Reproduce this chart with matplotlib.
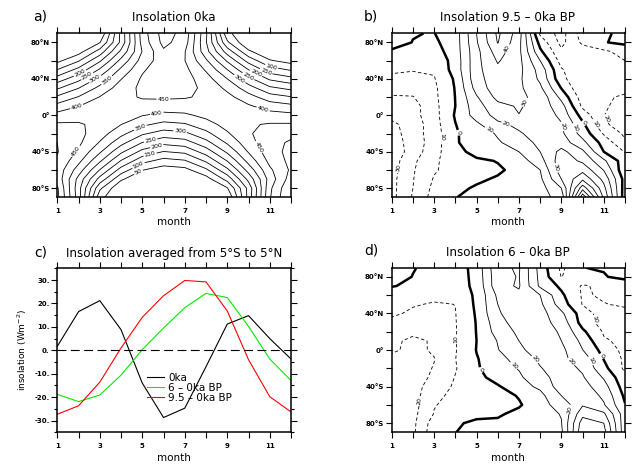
import numpy as np
import matplotlib.pyplot as plt
from matplotlib.ticker import MultipleLocator

plt.rcParams['font.family'] = ['DejaVu Sans']
plt.rcParams['lines.dashed_pattern'] = [4, 3]

months = np.arange(1, 13)
lats = np.arange(90, -91, -10)  # rows, north to south

# a) insolation at 0ka (W m-2), rows = lats, cols = Jan..Dec
insol_0ka = np.array([
    [0, 0, 0, 214, 425, 523, 482, 309, 64, 0, 0, 0],
    [0, 0, 47, 213, 419, 515, 474, 304, 109, 2, 0, 0],
    [0, 29, 121, 261, 402, 492, 453, 318, 178, 60, 3, 0],
    [36, 95, 192, 314, 421, 477, 451, 358, 243, 131, 55, 30],
    [101, 166, 257, 361, 443, 482, 464, 394, 301, 200, 122, 95],
    [172, 234, 315, 398, 457, 483, 471, 422, 350, 264, 192, 165],
    [242, 298, 364, 424, 461, 476, 468, 438, 388, 322, 260, 236],
    [309, 353, 402, 438, 454, 457, 454, 442, 415, 370, 323, 303],
    [368, 399, 427, 438, 434, 427, 428, 433, 429, 407, 377, 363],
    [418, 433, 439, 426, 402, 386, 391, 413, 430, 432, 421, 414],
    [457, 455, 438, 401, 360, 336, 345, 380, 418, 445, 454, 455],
    [485, 464, 423, 365, 308, 278, 289, 336, 394, 444, 475, 487],
    [500, 460, 396, 317, 249, 214, 227, 283, 357, 431, 483, 507],
    [503, 443, 357, 260, 184, 148, 161, 223, 309, 404, 479, 515],
    [495, 414, 308, 197, 117, 82, 95, 158, 252, 367, 464, 514],
    [482, 376, 248, 129, 52, 24, 34, 90, 188, 319, 441, 508],
    [483, 334, 182, 59, 3, 0, 0, 28, 118, 265, 421, 524],
    [507, 319, 111, 2, 0, 0, 0, 0, 46, 216, 439, 549],
    [514, 324, 65, 0, 0, 0, 0, 0, 0, 218, 445, 558],
])

# b) 9.5ka - 0ka
diff_95ka = np.array([
    [0.5, 0.2, -0.2, 5, 30, 52, 35, -12, -24, -5, -0.3, 0.5],
    [1.5, -0.1, -1.7, 5, 29, 50.5, 33, -3.7, -23, -8, -0.5, 2],
    [-0.5, -3, -4.1, 5, 27, 45, 32.5, 2, -18, -15, -12, -6],
    [-5, -6, -7.4, 4, 27, 41, 33, 10, -14, -17, -14, -10],
    [-8.5, -9.5, -9, 4, 27, 38, 33, 16, -9, -18, -17, -14],
    [-12, -12.5, -10.6, 1.4, 27, 35, 32, 18, -7, -19, -19, -17],
    [-16, -15.5, -12, 0.6, 24, 36, 32, 22, -0.5, -19, -19, -18],
    [-21, -20.5, -12.3, 0.2, 19, 33, 32, 27, 7, -15, -19, -21],
    [-27, -24, -13, 0, 16, 27, 31, 26, 14, -12, -19, -23],
    [-27.3, -23.7, -13.6, 1.0, 14.1, 23.3, 29.8, 29.2, 16.8, -4.0, -19.8, -26.3],
    [-32, -26, -14, -0.3, 8, 18, 22, 24, 21, 2, -18, -26],
    [-34, -25, -15, -1, 5, 11, 19, 24, 22, 6, -11, -22],
    [-35, -26, -15, -1.1, 5, 9, 14, 23, 25, 13, -4, -18],
    [-36, -26, -13, -4, 4, 6, 10, 20, 33, 22, 0, -10.5],
    [-35, -22, -12, -4, -2, 0.5, 5, 16, 36, 28, 12, -6],
    [-34, -21, -11, -6, -4, -1.5, 3, 10, 36, 37, 19.5, -8],
    [-33, -20.5, -9.2, -4, -1.5, 1, 3, 8, 30, 48, 27, -4],
    [-33, -20, -7.5, -2, 1, 2, 3, 6, 20, 66, 33, -5],
    [-33, -19, -6, -0.3, 3, 4, 5, 8, 12, 88, 38, -6],
])

# d) 6ka - 0ka
diff_6ka = np.array([
    [0.5, 0.2, -1, -5, 3.5, 28, 31, 6, -12, -0.1, 0.5, 0.5],
    [1.5, -0.1, -2, -5, 3, 27, 30.5, 7, -10.3, -4, -0.5, 2],
    [0.3, -1, -3, -4, 2, 27, 31, 8, -2, -11, -8, -5],
    [-3, -5, -7, -6, 1.5, 22, 28, 20, 1.8, -11, -9, -7],
    [-6, -9, -11, -9.9, 1.8, 20, 26, 22, 5, -10.5, -10.3, -9],
    [-8, -12, -13, -10.3, 1.1, 19, 25, 24, 12, -5, -15, -12],
    [-13, -16, -17, -10.5, 0.5, 16, 25, 24, 16, -4, -14, -12.5],
    [-16, -19, -19, -10.7, 0.3, 14, 22, 24, 19, 2, -11, -13],
    [-19, -21, -19.5, -10.5, 0, 10.5, 20, 24, 20, 7.5, -9, -12],
    [-18.8, -21.9, -19.1, -10.6, 0.3, 9.5, 18.2, 24.3, 22.5, 10.2, -3.7, -12.9],
    [-22, -23, -20.3, -10.2, -0.6, 5.5, 15, 21.5, 22, 16, -0.3, -12],
    [-23, -24, -19.5, -10.7, -1.5, 7.3, 10.5, 19.5, 24.5, 18.5, 3, -12],
    [-24, -25, -18, -9.6, -3, 3.7, 8.5, 16, 25, 21, 9, -7.4],
    [-25, -25, -13.9, -9, -6, -1, 6, 12, 25, 24, 14, -5],
    [-25, -24.5, -11.6, -8.4, -7, -5, 0.9, 7, 20, 27, 18, -2],
    [-25, -24, -10.5, -7, -7, -5, -1.3, 7.4, 13, 29, 21, 0.5],
    [-25, -23, -9.5, -6, -4, -1.5, 3, 5, 10.6, 37, 32, 4],
    [-25, -22.5, -5, -2, 3, 2, 2, 3, 9.5, 45, 40, 3],
    [-25, -22, -3.5, -0.1, 2, 2, 2, 3, 8, 48, 44, 3],
])

# c) averaged 5S-5N
eq_0ka = [1.7, 16.5, 21.2, 8.8, -14, -28.7, -24.7, -7, 11.2, 14.8, 5, -3.7]
eq_6ka = [-18.8, -21.9, -19.1, -10.6, 0.3, 9.5, 18.2, 24.3, 22.5, 10.2, -3.7, -12.9]
eq_95ka = [-27.3, -23.7, -13.6, 1.0, 14.1, 23.3, 29.8, 29.2, 16.8, -4.0, -19.8, -26.3]

lat_ticks = [-80, -60, -40, -20, 0, 20, 40, 60, 80]
lat_labels = ['80°S', '', '40°S', '', '0°', '', '40°N', '', '80°N']

# where the contour labels sit (month, lat)
labels_a = [(2.07, 46), (2.41, 43), (2.77, 40.5), (3.32, 38.7), (1.91, 9.5),
            (5.99, 17.9), (5.68, 2.2), (4.89, -12.4), (6.78, -17.9),
            (5.36, -24.5), (5.68, -34), (5.36, -42.4), (4.81, -54.4),
            (4.81, -61.7), (1.91, -40), (10.54, -34), (11.09, 54.4),
            (10.86, 49.7), (10.39, 47.9), (10.0, 43), (9.6, 40.5), (10.7, 7.7)]
labels_b = {'neg': [(3.2, -23.4), (1.27, -58), (10.51, -12.4), (10.98, -5.1)],
            'zero': [(4.07, -19.7), (10.04, -8.8)],
            'pos': [(6.58, 71.6), (7.21, 15), (6.35, -12.4), (5.48, -19.7),
                    (8.94, -12.4), (9.57, -14.2), (8.7, -58)]}
labels_d = {'neg': [(4.14, 11.7), (2.34, -55.9), (10.67, 33.6)],
            'zero': [(5.25, -21.2), (10.9, -6.6)],
            'pos': [(6.74, -17.5), (7.76, -10.2), (9.49, -12), (10.36, -12),
                    (9.41, -65)]}

W, H = 633, 465
fig = plt.figure(figsize=(W / 100, H / 100), dpi=100)


def px_axes(x0, y0, x1, y1):
    return fig.add_axes([x0 / W, 1 - y1 / H, (x1 - x0) / W, (y1 - y0) / H])


def style_axes(ax):
    ax.set_xlim(1, 12)
    ax.set_xticks(months)
    ax.set_xticklabels([str(m) if m % 2 else '' for m in months])
    ax.tick_params(which='both', direction='out', top=True, right=True,
                   width=0.8, labelsize=5)
    ax.tick_params(which='major', length=4.5)
    ax.tick_params(axis='x', pad=3.5)
    ax.tick_params(axis='y', pad=1)
    for lab in ax.get_xticklabels() + ax.get_yticklabels():
        lab.set_fontweight('bold')
    for s in ax.spines.values():
        s.set_linewidth(1.1)


def style_map(ax):
    ax.set_ylim(-90, 90)
    ax.set_yticks(lat_ticks)
    ax.set_yticklabels(lat_labels)
    style_axes(ax)


fmt = lambda v: f'{abs(v):.0f}'
lab_kw = dict(fmt=fmt, fontsize=4.5, inline=True, inline_spacing=1)


def diff_map(ax, data, neg, pos, spots):
    cn = ax.contour(months, lats, data, levels=neg, colors='k',
                    linewidths=0.6, linestyles='dashed')
    cz = ax.contour(months, lats, data, levels=[0], colors='k', linewidths=1.8)
    cp = ax.contour(months, lats, data, levels=pos, colors='k', linewidths=0.6)
    ax.clabel(cn, manual=spots['neg'], **lab_kw)
    ax.clabel(cz, manual=spots['zero'], **lab_kw)
    ax.clabel(cp, manual=spots['pos'], **lab_kw)
    style_map(ax)


# a)
ax_a = px_axes(57.3, 33.3, 291, 197.3)
cs = ax_a.contour(months, lats, insol_0ka, levels=np.arange(50, 501, 50),
                  colors='k', linewidths=0.6)
ax_a.clabel(cs, levels=np.arange(50, 451, 50), manual=labels_a, **lab_kw)
style_map(ax_a)

# b)
ax_b = px_axes(391.7, 33.3, 625, 197.3)
diff_map(ax_b, diff_95ka, [-30, -20, -10], np.arange(10, 81, 10), labels_b)

# c)
ax_c = px_axes(57.3, 268.3, 291, 432.3)
ax_c.plot(months, eq_0ka, color='black', lw=0.8, label='0ka')
ax_c.plot(months, eq_6ka, color='#00ee00', lw=0.8, label='6 – 0ka BP')
ax_c.plot(months, eq_95ka, color='red', lw=0.8, label='9.5 – 0ka BP')
ax_c.axhline(0, color='black', lw=0.8, ls=(0, (8, 4)))
ax_c.set_ylim(-35, 35)
ax_c.set_yticks(np.arange(-30, 31, 10))
ax_c.set_yticklabels([f'{v}.' for v in range(-30, 31, 10)])
ax_c.yaxis.set_minor_locator(MultipleLocator(5))
style_axes(ax_c)
ax_c.tick_params(which='minor', length=2.5)
ax_c.legend(loc='upper left', bbox_to_anchor=(0.361, 0.395), frameon=False,
            fontsize=7.5, handlelength=1.6, handletextpad=0.45,
            labelspacing=0, borderpad=0)

# d)
ax_d = px_axes(391.7, 267.7, 625, 432.3)
diff_map(ax_d, diff_6ka, [-20, -10], np.arange(10, 51, 10), labels_d)

# titles, panel letters, axis labels
title_kw = dict(fontsize=8.6, ha='center', va='center')
fig.text(174 / W, 1 - 17.5 / H, 'Insolation 0ka', **title_kw)
fig.text(508 / W, 1 - 17.5 / H, 'Insolation 9.5 – 0ka BP', **title_kw)
fig.text(174 / W, 1 - 253 / H, 'Insolation averaged from 5°S to 5°N', **title_kw)
fig.text(508 / W, 1 - 252 / H, 'Insolation 6 – 0ka BP', **title_kw)
letter_kw = dict(fontsize=10, ha='center', va='center')
fig.text(40 / W, 1 - 17 / H, 'a)', **letter_kw)
fig.text(371 / W, 1 - 17 / H, 'b)', **letter_kw)
fig.text(41 / W, 1 - 253 / H, 'c)', **letter_kw)
fig.text(371 / W, 1 - 251 / H, 'd)', **letter_kw)
for xc, yc in [(174, 221.5), (508, 221.5), (174, 458), (508, 458)]:
    fig.text(xc / W, 1 - yc / H, 'month', fontsize=7.5, ha='center', va='center')
fig.text(22 / W, 1 - 350 / H, 'insolation (Wm$^{-2}$)', fontsize=6.5,
         rotation=90, ha='center', va='center')

fig.savefig('out.png', dpi=100)
